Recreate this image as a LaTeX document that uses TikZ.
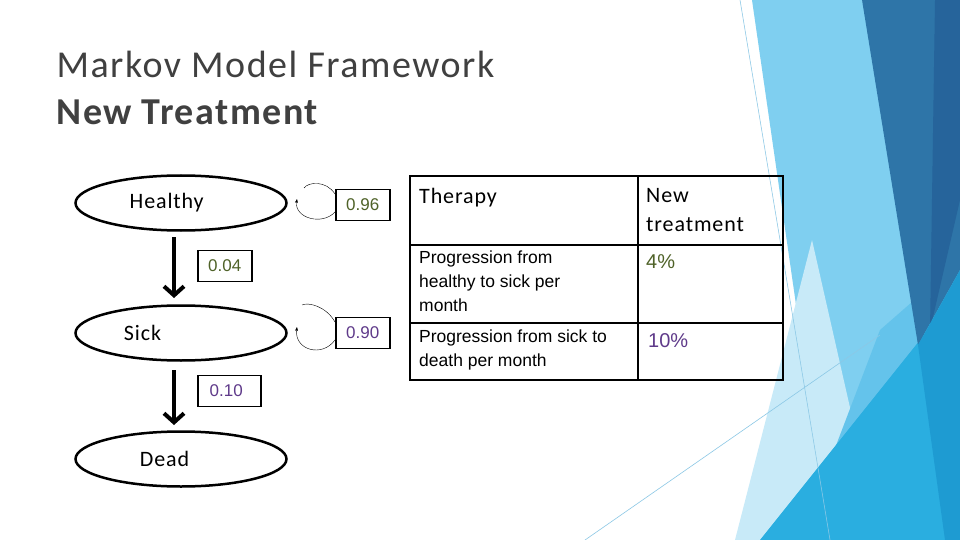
\documentclass[tikz,border=0pt]{standalone}
\usepackage{fontspec}
\setmainfont{Liberation Sans}
\newfontfamily\nf[LetterSpace=4]{Carlito}
\usetikzlibrary{arrows.meta,shapes.geometric}
\definecolor{olv}{HTML}{4F6228}
\definecolor{prp}{HTML}{5F3A8A}
\begin{document}
\begin{tikzpicture}[x=1pt,y=-1pt,
  st/.style={draw,line width=2.5pt,ellipse,minimum width=211pt,minimum height=55pt,font=\nf\fontsize{22}{24}\selectfont,inner sep=0pt},
  pb/.style={draw,line width=1.5pt,font=\fontsize{17}{19}\selectfont,minimum height=31pt,minimum width=54pt,inner sep=2pt,anchor=west},
  big/.style={line width=3.5pt,-{Straight Barb[length=9pt,width=20pt,line width=4pt]}},
  lp/.style={thin,-{Stealth[length=4pt]}},
  cell/.style={anchor=north west,align=left,inner sep=0pt}]
\useasboundingbox (0,0) rectangle (960,540);
\fill[white] (0,0) rectangle (960,540);
% background
\fill[color={rgb,255:red,127;green,207;blue,240}] (752,0)--(862,0)--(960,300)--(960,540)--(830,540)--cycle;
\fill[color={rgb,255:red,200;green,234;blue,248}] (812,240)--(880,540)--(735,540)--cycle;
\fill[color={rgb,255:red,100;green,195;blue,235}] (880,330)--(960,260)--(960,540)--(800,540)--cycle;
\fill[color={rgb,255:red,42;green,174;blue,224}] (760,540)--(960,290)--(960,540)--cycle;
\fill[color={rgb,255:red,46;green,117;blue,168}] (862,0)--(960,0)--(960,270)--(918,345)--cycle;
\fill[color={rgb,255:red,38;green,100;blue,155}] (935,0)--(960,0)--(960,200)--(930,330)--cycle;
\fill[color={rgb,255:red,30;green,155;blue,210}] (918,345)--(960,270)--(960,540)--(945,540)--cycle;
\draw[color={rgb,255:red,140;green,200;blue,230},line width=0.6pt] (740,0)--(830,540);
\draw[color={rgb,255:red,140;green,200;blue,230},line width=0.6pt] (585,540)--(880,335);
% title
\node[anchor=west,font=\nf\fontsize{38}{40}\selectfont,text=black!75] (t1) at (53,64) {Markov Model Framework};
\node[anchor=west,font=\nf\bfseries\fontsize{38}{40}\selectfont,text=black!75] (t2) at (53,112) {New Treatment};
% states
\node[st] (h) at (181,203) {Healthy\hspace*{1.3em}};
\node[st] (s) at (181,333) {Sick\hspace*{3.5em}};
\node[st] (d) at (181,459) {Dead\hspace*{1.5em}};
\coordinate (a1) at (174,237); \coordinate (a2) at (174,298);
\coordinate (b1) at (174,370); \coordinate (b2) at (174,425);
\draw[big] (a1)--(a2);
\draw[big] (b1)--(b2);
\node[pb,text=olv] (p1) at (335,205) {0.96};
\node[pb,text=olv] (p2) at (197,266) {0.04};
\node[pb,text=prp] (p3) at (335,333) {0.90};
\node[pb,text=prp,minimum width=63pt] (p4) at (197,391) {0.10\hspace*{6pt}};
\coordinate (l1a) at (335,194); \coordinate (l1b) at (335,212); \coordinate (l1c) at (297,199);
\draw[thin] (l1a) .. controls (326,180) and (308,182) .. (304,188);
\draw[lp] (l1b) .. controls (322,226) and (294,218) .. (l1c);
\coordinate (l3a) at (335,322); \coordinate (l3b) at (335,340); \coordinate (l3c) at (297,327);
\draw[thin] (l3a) .. controls (326,306) and (308,302) .. (302,305);
\draw[lp] (l3b) .. controls (322,358) and (294,350) .. (l3c);
% table
\draw[line width=2pt] (410,176) rectangle (783,380);
\draw[line width=1.2pt] (410,245)--(783,245);
\draw[line width=1.2pt] (410,323)--(783,323);
\draw[line width=1.2pt] (638,176)--(638,380);
\node[cell,font=\nf\fontsize{22}{24}\selectfont] (c1) at (419,188) {Therapy};
\node[cell,font=\nf\fontsize{22}{29}\selectfont] (c2) at (646,188) {New\\treatment};
\node[cell,font=\fontsize{17.5}{24}\selectfont] (c3) at (419,251) {Progression from\\healthy to sick per\\month};
\node[cell,font=\fontsize{20}{22}\selectfont,text=olv] (c4) at (646,254) {4\%};
\node[cell,font=\fontsize{17.5}{24}\selectfont] (c5) at (419,330) {Progression from sick to\\death per month};
\node[cell,font=\fontsize{20}{22}\selectfont,text=prp] (c6) at (648,333) {10\%};
\end{tikzpicture}
\end{document}
